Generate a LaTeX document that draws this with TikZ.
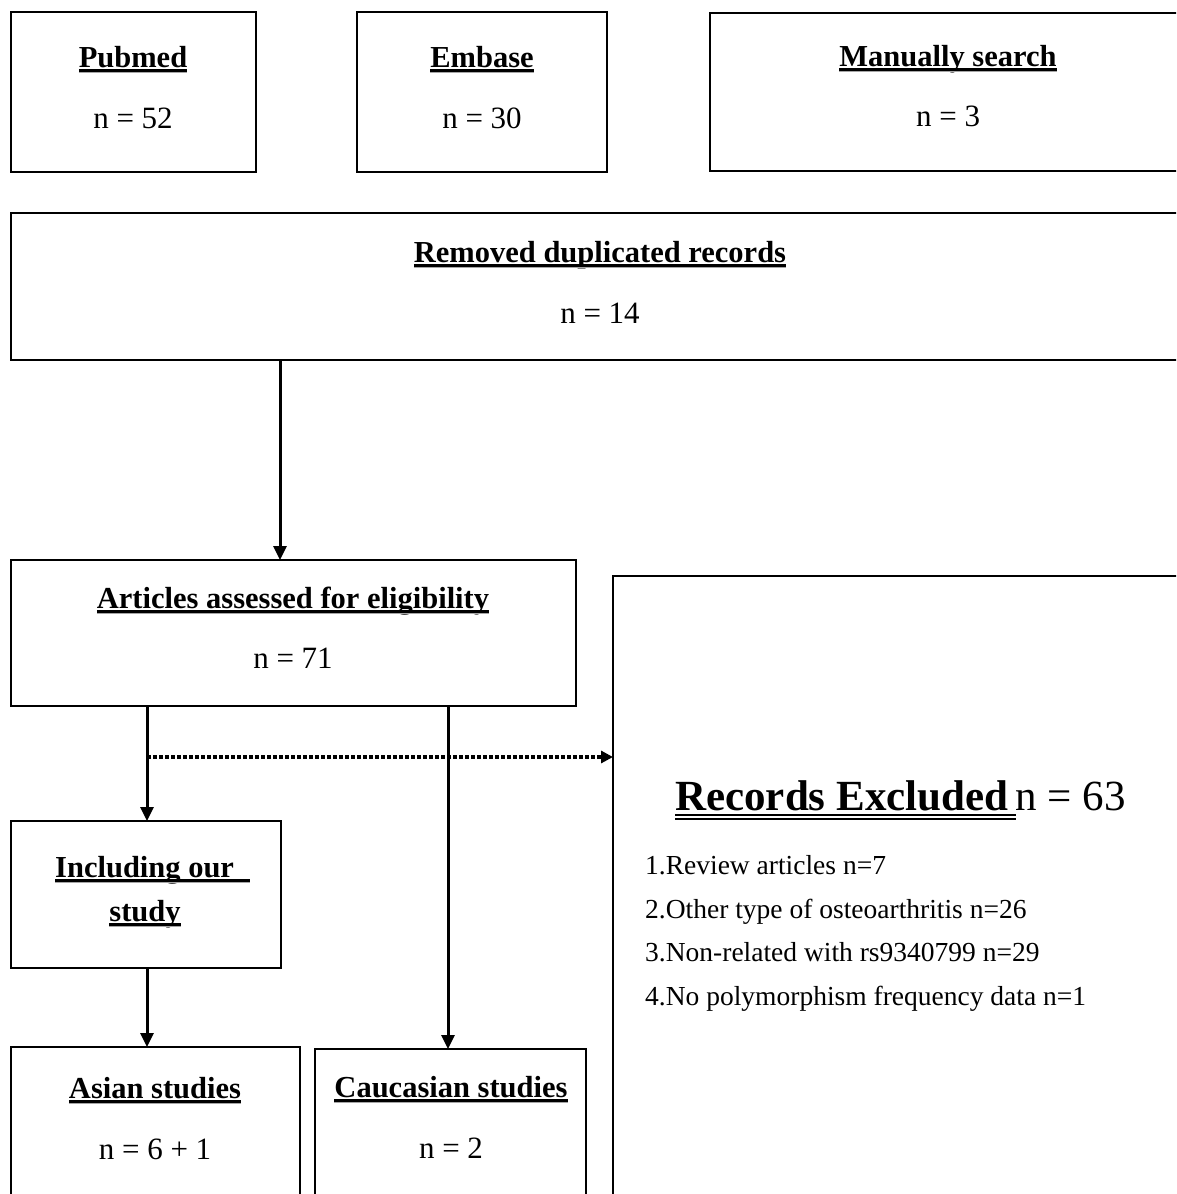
\documentclass[tikz,border=0pt]{standalone}
\usepackage{fontspec}
\setmainfont{Liberation Serif}
\usetikzlibrary{arrows.meta,calc}
\newcommand\dul[1]{\setbox0\hbox{#1}\rlap{\copy0}\rlap{\rule[-4.5pt]{\wd0}{2.2pt}}{\color{gray!70}\rule[-6.3pt]{\wd0}{1.6pt}}}
\newcommand\ddul[1]{\setbox0\hbox{#1}\rlap{\copy0}\rlap{\rule[-6pt]{\wd0}{2pt}}\rule[-10pt]{\wd0}{2pt}}
\begin{document}
\begin{tikzpicture}[x=1pt,y=-1pt,
 box/.style={draw, line width=2pt, inner sep=0pt, outer sep=0pt, rectangle},
 head/.style={font=\fontsize{30.5}{36}\selectfont\bfseries, anchor=base, inner sep=0pt},
 num/.style={font=\fontsize{31}{36}\selectfont, anchor=base, inner sep=0pt},
 item/.style={font=\fontsize{27.5}{32}\selectfont, anchor=base west, inner sep=0pt},
 arr/.style={line width=3pt, -{Triangle[length=14pt,width=13pt]}},
 dotarr/.style={line width=3.5pt, dash pattern=on 4pt off 2pt, -{Triangle[length=12pt,width=12pt]}}]
\useasboundingbox (0,0) rectangle (1176,1194);
\clip (0,0) rectangle (1176,1194);
\fill[white] (0,0) rectangle (1176,1194);
% boxes
\node[box, minimum width=245pt, minimum height=160pt] (pub) at (133.5,92) {};
\node[box, minimum width=250pt, minimum height=160pt] (emb) at (482,92) {};
\node[box, minimum width=480pt, minimum height=158pt] (man) at (950,92) {};
\node[box, minimum width=1179pt, minimum height=147pt] (rem) at (600.5,286.5) {};
\node[box, minimum width=565pt, minimum height=146pt] (art) at (293.5,633) {};
\node[box, minimum width=587pt, minimum height=634pt] (excl) at (906.5,893) {};
\node[box, minimum width=270pt, minimum height=147pt] (incl) at (146,894.5) {};
\node[box, minimum width=289pt, minimum height=163pt] (asian) at (155.5,1128.5) {};
\node[box, minimum width=271pt, minimum height=161pt] (cauc) at (450.5,1129.5) {};
% texts
\node[head] (pubh) at (133,67) {\dul{Pubmed}};
\node[num] (pubn) at (133,128) {n = 52};
\node[head] (embh) at (482,67) {\dul{Embase}};
\node[num] (embn) at (482,128) {n = 30};
\node[head] (manh) at (948,66) {\dul{Manually search}};
\node[num] (mann) at (948,126) {n = 3};
\node[head] (remh) at (600,262) {\dul{Removed duplicated records}};
\node[num] (remn) at (600,323) {n = 14};
\node[head] (arth) at (293,608) {\dul{Articles assessed for eligibility}};
\node[num] (artn) at (293,668) {n = 71};
\node[head, anchor=base west] (inclh) at (55,877) {\dul{Including our\hspace{16pt}}};
\node[head] (incls) at (145,921) {\dul{study}};
\node[head] (asianh) at (155,1098) {\dul{Asian studies}};
\node[num] (asiann) at (155,1159) {n = 6 + 1};
\node[head] (cauch) at (451,1097) {\dul{Caucasian studies}};
\node[num] (caucn) at (451,1158) {n = 2};
\node[anchor=base west, inner sep=0pt, font=\fontsize{43}{50}\selectfont] (exh) at (675,810) {\textbf{\ddul{Records Excluded\,}}n = 63};
\node[item] (i1) at (645,874) {1.Review articles n=7};
\node[item] (i2) at (645,918) {2.Other type of osteoarthritis n=26};
\node[item] (i3) at (645,961) {3.Non-related with rs9340799 n=29};
\node[item] (i4) at (645,1005) {4.No polymorphism frequency data n=1};
% connectors
\coordinate (xa) at (280,0);
\coordinate (xb) at (147,0);
\coordinate (xc) at (448,0);
\coordinate (split) at (147,757);
\draw[arr] (rem.south -| xa) -- (art.north -| xa);
\draw[arr] (art.south -| xb) -- (incl.north -| xb);
\draw[arr] (art.south -| xc) -- (cauc.north -| xc);
\draw[arr] (incl.south -| xb) -- (asian.north -| xb);
\draw[dotarr] (split) -- (excl.west |- split);
\end{tikzpicture}
\end{document}
